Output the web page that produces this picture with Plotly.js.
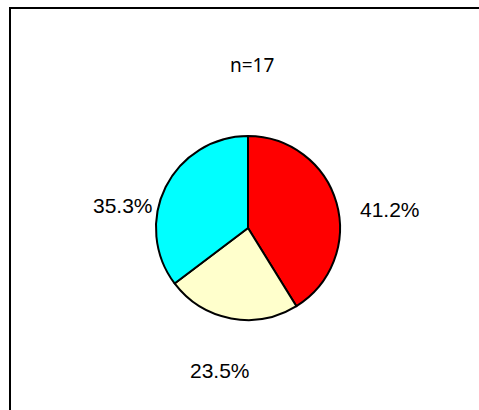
<!DOCTYPE html>
<html>
<head>
<meta charset="utf-8">
<script src="https://cdn.plot.ly/plotly-3.0.1.min.js"></script>
<style>html,body{margin:0;padding:0;background:#fff;}#chart{width:479px;height:410px;}</style>
</head>
<body>
<div id="chart"></div>
<script>
const categories = ["A", "B", "C"];
const counts = [7, 4, 6];
const sliceColors = ["#FF0000", "#FFFFCC", "#00FFFF"];
const titleText = "n=17";

const W = 479, H = 410;
const total = counts.reduce((a, b) => a + b, 0);
const pctLabels = counts.map(v => (v / total * 100).toFixed(1) + "%");

const cx = 248, cy = 228, r = 92;
const px = x => x / W;
const py = y => 1 - y / H;

// label anchor points (screen px), Excel-style placement
const labelPos = [[390, 209], [220, 370], [123, 205]];

const trace = {
  type: "pie",
  labels: categories,
  values: counts,
  sort: false,
  direction: "clockwise",
  rotation: 0,
  textinfo: "none",
  hoverinfo: "none",
  marker: { colors: sliceColors, line: { color: "#000", width: 2 } },
  domain: { x: [px(cx - r), px(cx + r)], y: [py(cy + r), py(cy - r)] },
  showlegend: false
};

const annotations = pctLabels.map((t, i) => ({
  text: t,
  xref: "paper", yref: "paper",
  x: px(labelPos[i][0]), y: py(labelPos[i][1]),
  xanchor: "center", yanchor: "middle",
  showarrow: false,
  font: { family: "Liberation Sans Narrow, Arial Narrow, Liberation Sans, sans-serif", size: 21, color: "#000" }
}));
annotations.push({
  text: titleText,
  xref: "paper", yref: "paper",
  x: px(252), y: py(65),
  xanchor: "center", yanchor: "middle",
  showarrow: false,
  font: { family: "Noto Sans, DejaVu Sans, sans-serif", size: 19, color: "#000" }
});

const layout = {
  width: W, height: H,
  margin: { l: 0, r: 0, t: 0, b: 0 },
  paper_bgcolor: "#fff",
  plot_bgcolor: "#fff",
  annotations: annotations,
  shapes: [
    { type: "line", xref: "paper", yref: "paper", x0: px(10), x1: px(10), y0: py(8), y1: 0, line: { color: "#000", width: 2 } },
    { type: "line", xref: "paper", yref: "paper", x0: px(9), x1: 1, y0: py(8), y1: py(8), line: { color: "#000", width: 2 } }
  ]
};

Plotly.newPlot("chart", [trace], layout, { displayModeBar: false, staticPlot: true });
</script>
</body>
</html>
